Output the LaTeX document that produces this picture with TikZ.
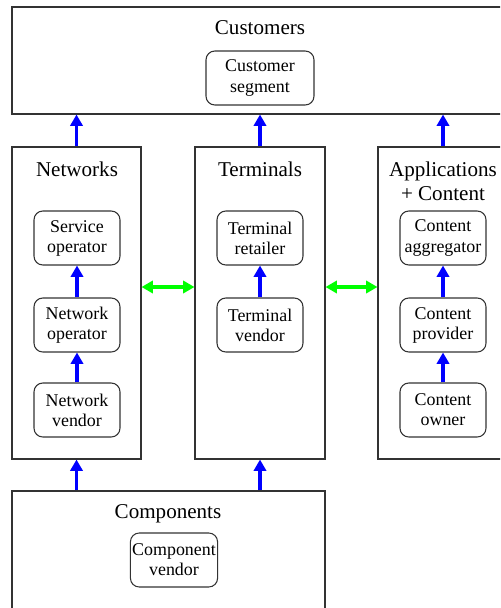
\documentclass[tikz,border=0pt]{standalone}
\usepackage{fontspec}
\setmainfont{Liberation Serif}
\usetikzlibrary{arrows.meta, fit}

\tikzset{
  group/.style={draw=black!80, line width=0.6pt, inner sep=0pt},
  actor/.style={draw=black!80, line width=0.6pt, rounded corners=5pt,
    minimum width=1.72cm, minimum height=1.08cm, inner sep=1pt,
    align=center, font=\fontsize{10.2}{11.4}\selectfont},
  title/.style={align=center, font=\fontsize{12}{13.8}\selectfont},
  flow/.style={blue, line width=1.8pt, -{Triangle[length=6.5pt,width=7pt]}},
  link/.style={green, line width=2.1pt,
    {Triangle[length=6.5pt,width=7pt]}-{Triangle[length=6.5pt,width=7pt]}}
}

\begin{document}
\begin{tikzpicture}[x=0.02cm, y=-0.02cm]
    \useasboundingbox (0,0) rectangle (500,608);
    \clip (0,0) rectangle (500,608);

    % layers
    \node[group, fit={(12,7) (508,114)}] (cust) {};
    \node[group, fit={(12,147) (141,459)}] (net) {};
    \node[group, fit={(195,147) (325,459)}] (term) {};
    \node[group, fit={(378,147) (508,459)}] (apps) {};
    \node[group, fit={(12,491) (325,640)}] (comp) {};

    \node[title, anchor=base] (custtitle) at (260,35) {Customers};
    \node[title, anchor=base] (nettitle) at (77,176) {Networks};
    \node[title, anchor=base] (termtitle) at (260,176) {Terminals};
    \node[title] (appstitle) at (443,181) {Applications\\+ Content};
    \node[title, anchor=base] (comptitle) at (168,518) {Components};

    % players
    \node[actor, minimum width=2.16cm] (segment) at (260,78) {Customer\\segment};
    \node[actor] (service) at (77,238) {Service\\operator};
    \node[actor] (netop) at (77,325) {Network\\operator};
    \node[actor] (netvendor) at (77,410) {Network\\vendor};
    \node[actor] (retailer) at (260,238) {Terminal\\retailer};
    \node[actor] (termvendor) at (260,325) {Terminal\\vendor};
    \node[actor] (aggregator) at (443,238) {Content\\aggregator};
    \node[actor] (provider) at (443,325) {Content\\provider};
    \node[actor] (owner) at (443,410) {Content\\owner};
    \node[actor] (compvendor) at (174,560) {Component\\vendor};

    \draw[flow] (netop) -- (service);
    \draw[flow] (netvendor) -- (netop);
    \draw[flow] (termvendor) -- (retailer);
    \draw[flow] (provider) -- (aggregator);
    \draw[flow] (owner) -- (provider);

    \draw[flow] (net.north) -- (net.north |- cust.south);
    \draw[flow] (term.north) -- (term.north |- cust.south);
    \draw[flow] (apps.north) -- (apps.north |- cust.south);
    \draw[flow] (comp.north -| net.south) -- (net.south);
    \draw[flow] (comp.north -| term.south) -- (term.south);

    \coordinate (mid) at (0,287);
    \draw[link] (net.east |- mid) -- (term.west |- mid);
    \draw[link] (term.east |- mid) -- (apps.west |- mid);
\end{tikzpicture}
\end{document}
